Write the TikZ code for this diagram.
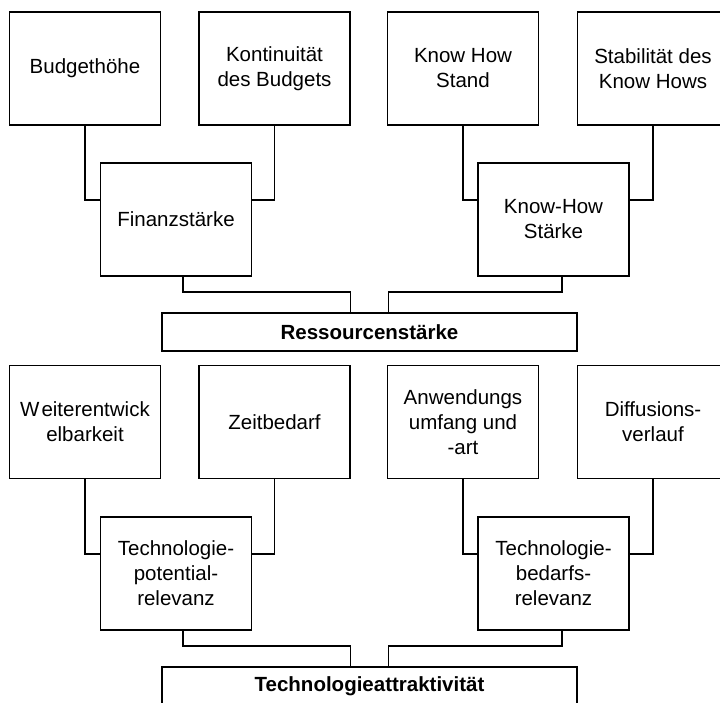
\documentclass[tikz,border=0pt]{standalone}
\usepackage{fontspec}
\setmainfont{Liberation Sans}
\begin{document}
\begin{tikzpicture}[x=1pt,y=-1pt,
  line width=1.8pt,
  factor/.style={draw, rectangle, minimum width=151pt, minimum height=113pt,
    inner sep=0pt, align=center, font=\fontsize{20.5}{25}\selectfont},
  summary/.style={draw, rectangle, minimum width=415pt, minimum height=38pt,
    inner sep=0pt, align=center, font=\fontsize{20.5}{25}\selectfont\bfseries},
  link/.style={draw, line width=1.8pt}]
\useasboundingbox (0,0) rectangle (720,702);
\clip (0,0) rectangle (720,702);

% upper tree: Ressourcenstärke
\node[factor] (bud) at (85,68.5) {Budgethöhe};
\node[factor] (kon) at (274.5,68.5) {Kontinuität\\des Budgets};
\node[factor] (khs) at (463,68.5) {Know How\\Stand};
\node[factor] (stab) at (653,68.5) {Stabilität des\\Know Hows};
\node[factor] (fin) at (176,219.5) {Finanzstärke};
\node[factor] (khst) at (553.5,219.5) {Know-How\\Stärke};
\node[summary] (res) at (369.5,332) {Ressourcenstärke};

\draw[link] (bud.south) |- ([yshift=19.5pt]fin.west);
\draw[link] (kon.south) |- ([yshift=19.5pt]fin.east);
\draw[link] (khs.south) |- ([yshift=19.5pt]khst.west);
\draw[link] (stab.south) |- ([yshift=19.5pt]khst.east);
\draw[link] ([xshift=7.3pt]fin.south) -- ++(0,15) -| ([xshift=-19pt]res.north);
\draw[link] ([xshift=8.5pt]khst.south) -- ++(0,15) -| ([xshift=19pt]res.north);

% lower tree: Technologieattraktivität
\node[factor] (wei) at (85,422) {W\kern2pt eiterentwick\\elbarkeit};
\node[factor] (zeit) at (274.5,422) {Zeitbedarf};
\node[factor] (anw) at (463,422) {Anwendungs\\umfang und\\-art};
\node[factor] (dif) at (653,422) {Diffusions-\\verlauf};
\node[factor] (tpr) at (176,573.5) {Technologie-\\potential-\\relevanz};
\node[factor] (tbr) at (553.5,573.5) {Technologie-\\bedarfs-\\relevanz};
\node[summary] (tat) at (369.5,686) {Technologieattraktivität};

\draw[link] (wei.south) |- ([yshift=19.5pt]tpr.west);
\draw[link] (zeit.south) |- ([yshift=19.5pt]tpr.east);
\draw[link] (anw.south) |- ([yshift=19.5pt]tbr.west);
\draw[link] (dif.south) |- ([yshift=19.5pt]tbr.east);
\draw[link] ([xshift=7.3pt]tpr.south) -- ++(0,15) -| ([xshift=-19pt]tat.north);
\draw[link] ([xshift=8.5pt]tbr.south) -- ++(0,15) -| ([xshift=19pt]tat.north);
\end{tikzpicture}
\end{document}
